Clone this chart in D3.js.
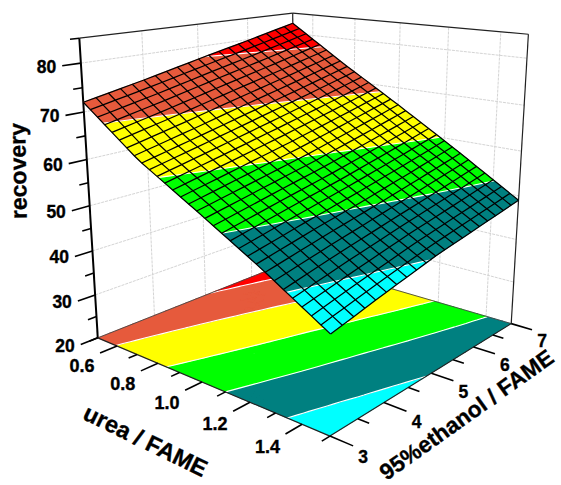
<!DOCTYPE html>
<html><head><meta charset="utf-8">
<script src="https://cdn.jsdelivr.net/npm/d3@7/dist/d3.min.js"></script>
<style>html,body{margin:0;padding:0;background:#fff}svg{display:block}
text{font-family:"Liberation Sans",Arial,sans-serif;font-weight:bold;fill:#000;stroke:#000;stroke-width:0.35px}</style>
</head><body><svg id="c" width="561" height="485"></svg>
<script>
// ---- data ----
const ureaNodes = [0.5, 0.75, 1.0, 1.25, 1.5];
const ethanolNodes = [3, 4, 5, 6, 7];
const recoveryU050 = [72.0, 74.5, 77.2, 79.8, 82.5];
const recoveryU075 = [62.6, 65.4, 68.3, 71.1, 74.0];
const recoveryU100 = [55.3, 57.8, 60.3, 63.1, 66.0];
const recoveryU125 = [47.8, 50.3, 52.6, 55.1, 57.7];
const recoveryU150 = [39.6, 42.4, 45.0, 47.0, 49.0];
const recoveryRows = [recoveryU050, recoveryU075, recoveryU100, recoveryU125, recoveryU150];
const levels = [44.7, 52.3, 60, 68.5, 77.5];
const bandColors = ["#00ffff", "#008080", "#00ff00", "#ffff00", "#e65a3c", "#ff0000"];
const zMajor = [20, 30, 40, 50, 60, 70, 80];
const zMinor = [25, 35, 45, 55, 65, 75, 85];
const uMajor = [0.6, 0.8, 1.0, 1.2, 1.4];
const uMinor = [0.5, 0.7, 0.9, 1.1, 1.3, 1.5];
const eMajor = [3, 4, 5, 6, 7];
const eMinor = [3.5, 4.5, 5.5, 6.5];
const uLabels = ["0.6", "0.8", "1.0", "1.2", "1.4"];
const meshU = 30, meshE = 20;

// ---- scales to the unit cube ----
const sx = d3.scaleLinear([0.5, 1.5], [0, 1]);
const sy = d3.scaleLinear([3, 7], [0, 1]);
const sz = d3.scaleLinear([20, 85], [0, 1]);

// ---- view: camera fitted to the frame of the box ----
const frame = [
  [0.5,3,20, 97,337],[1.5,3,20, 330,436],[1.5,7,20, 511,324],
  [0.5,3,85, 79,38],[0.5,7,85, 293,13],[1.5,7,85, 528,34],
  [0.5,3,50, 90.5,207],[1.0,3,20, 202,382],[1.5,5,20, 432,373]
];
function fitCamera(rows){
  const A=[],b=[];
  rows.forEach(([u,e,z,X,Y])=>{
    const p=[sx(u),sy(e),sz(z),1];
    A.push([...p,0,0,0,0,...p.slice(0,3).map(v=>-v*X)]);b.push(X);
    A.push([0,0,0,0,...p,...p.slice(0,3).map(v=>-v*Y)]);b.push(Y);
  });
  const n=11,M=d3.range(n).map(i=>d3.range(n+1).map(j=>{
    let s=0;A.forEach((r,k)=>{s+=r[i]*(j<n?r[j]:b[k]);});return s;}));
  for(let i=0;i<n;i++){
    let p=i;for(let k=i+1;k<n;k++)if(Math.abs(M[k][i])>Math.abs(M[p][i]))p=k;
    [M[i],M[p]]=[M[p],M[i]];
    for(let k=0;k<n;k++)if(k!==i){const f=M[k][i]/M[i][i];for(let j=i;j<=n;j++)M[k][j]-=f*M[i][j];}
  }
  return M.map((r,i)=>r[n]/r[i]);
}
const C=fitCamera(frame);
function pr(u,e,z){
  const x=sx(u),y=sy(e),w=sz(z),d=C[8]*x+C[9]*y+C[10]*w+1;
  return [(C[0]*x+C[1]*y+C[2]*w+C[3])/d,(C[4]*x+C[5]*y+C[6]*w+C[7])/d];
}
const svg=d3.select("#c");
const line=d3.line();
function seg(g,a,b,col,w,dash){
  g.append("path").attr("d",line([pr(...a),pr(...b)])).attr("fill","none")
   .attr("stroke",col).attr("stroke-width",w).attr("stroke-dasharray",dash||null);
}
// ---- walls ----
const gWall=svg.append("g");
const gridCol="#d4d4d4",gd="3,1";
zMajor.slice(1).forEach(z=>{
  seg(gWall,[0.5,3,z],[0.5,7,z],gridCol,1,gd);
  seg(gWall,[0.5,7,z],[1.5,7,z],gridCol,1,gd);
});
eMajor.slice(1,-1).forEach(e=>seg(gWall,[0.5,e,20],[0.5,e,85],gridCol,1,gd));
uMajor.forEach(u=>seg(gWall,[u,7,20],[u,7,85],gridCol,1,gd));
seg(gWall,[0.5,3,85],[0.5,7,85],"#222",1.2);
seg(gWall,[0.5,7,85],[1.5,7,85],"#222",1.2);
seg(gWall,[0.5,7,85],[0.5,7,20],"#222",1.2);
seg(gWall,[1.5,7,85],[1.5,7,20],"#222",1.2);

// ---- surface sampling ----
const iu=d3.scaleLinear(ureaNodes,d3.range(ureaNodes.length)).clamp(true);
const ie=d3.scaleLinear(ethanolNodes,d3.range(ethanolNodes.length)).clamp(true);
function height(u,e){
  const a=iu(u),b=ie(e),i=Math.min(Math.floor(a),ureaNodes.length-2),j=Math.min(Math.floor(b),ethanolNodes.length-2);
  const s=a-i,t=b-j,R=recoveryRows;
  return (1-s)*(1-t)*R[i][j]+s*(1-t)*R[i+1][j]+(1-s)*t*R[i][j+1]+s*t*R[i+1][j+1];
}
const us=d3.range(meshU+1).map(i=>0.5+i/meshU);
const es=d3.range(meshE+1).map(j=>3+4*j/meshE);
const tris=[];
for(let i=0;i<meshU;i++)for(let j=0;j<meshE;j++){
  const v=(a,b)=>[us[a],es[b],height(us[a],es[b])];
  tris.push([v(i,j),v(i+1,j),v(i+1,j+1)],[v(i,j),v(i+1,j+1),v(i,j+1)]);
}
function lerp(a,b,l){const t=(l-a[2])/(b[2]-a[2]);return [a[0]+t*(b[0]-a[0]),a[1]+t*(b[1]-a[1]),l];}
function clip(poly,l,keepAbove){
  const out=[];
  poly.forEach((p,i)=>{
    const q=poly[(i+1)%poly.length],pi=keepAbove?p[2]>=l:p[2]<=l,qi=keepAbove?q[2]>=l:q[2]<=l;
    if(pi)out.push(p);
    if(pi!==qi)out.push(lerp(p,q,l));
  });
  return out;
}
const edges=[-Infinity,...levels,Infinity];
const bands=bandColors.map((col,k)=>{
  const polys=[];
  tris.forEach(t=>{
    let p=t;
    if(isFinite(edges[k]))p=clip(p,edges[k],true);
    if(p.length&&isFinite(edges[k+1]))p=clip(p,edges[k+1],false);
    if(p.length>2)polys.push(p);
  });
  return {col,polys};
});
const contourSegs=levels.map(l=>{
  const s=[];
  tris.forEach(t=>{
    const pts=[];
    t.forEach((p,i)=>{const q=t[(i+1)%3];if((p[2]<l)!==(q[2]<l))pts.push(lerp(p,q,l));});
    if(pts.length===2)s.push(pts);
  });
  return s;
});
function drawBands(g,zf){
  const P=p=>zf===null?pr(p[0],p[1],p[2]):pr(p[0],p[1],zf);
  bands.forEach(b=>{
    const d=b.polys.map(poly=>line(poly.map(P))+"Z").join("");
    g.append("path").attr("d",d).attr("fill",b.col).attr("stroke",b.col).attr("stroke-width",0.5);
  });
  const d=contourSegs.flat().map(s=>line(s.map(P))).join("");
  g.append("path").attr("d",d).attr("fill","none").attr("stroke","#fff").attr("stroke-width",1.1);
}
// ---- floor ----
const gFloor=svg.append("g");
drawBands(gFloor,20);
seg(gFloor,[0.5,3,20],[0.5,7,20],"#444",0.9);
seg(gFloor,[0.5,7,20],[1.5,7,20],"#444",0.9);

// ---- axes ----
const gAxis=svg.append("g");
seg(gAxis,[0.5,3,20],[0.5,3,85],"#000",2);
seg(gAxis,[0.5,3,20],[1.5,3,20],"#222",1.2);
seg(gAxis,[1.5,3,20],[1.5,7,20],"#222",1.2);
const TZ=0.28,TE=0.08;
zMajor.forEach(z=>seg(gAxis,[0.5,3,z],[0.5,3-TZ,z],"#000",1.6));
zMinor.forEach(z=>seg(gAxis,[0.5,3,z],[0.5,3-TZ/2,z],"#000",1.6));
uMajor.forEach(u=>seg(gAxis,[u,3,20],[u,3-TZ,20],"#000",1.6));
uMinor.forEach(u=>seg(gAxis,[u,3,20],[u,3-TZ/2,20],"#000",1.6));
eMajor.forEach(e=>seg(gAxis,[1.5,e,20],[1.5+TE,e,20],"#000",1.6));
eMinor.forEach(e=>seg(gAxis,[1.5,e,20],[1.5+TE/2,e,20],"#000",1.6));

// ---- surface ----
const gSurf=svg.append("g");
drawBands(gSurf,null);
const mesh=[];
us.forEach(u=>mesh.push(es.map(e=>pr(u,e,height(u,e)))));
es.forEach(e=>mesh.push(us.map(u=>pr(u,e,height(u,e)))));
gSurf.selectAll("path.m").data(mesh).join("path").attr("class","m").attr("d",line)
  .attr("fill","none").attr("stroke","#000").attr("stroke-width",1.25);

// ---- labels ----
const gText=svg.append("g");
zMajor.forEach(z=>{
  const p=pr(0.5,3-TZ,z);
  gText.append("text").attr("x",p[0]-6).attr("y",p[1]+7).attr("text-anchor","end").attr("font-size",17.5).text(z);
});
uMajor.forEach((u,i)=>{
  const p=pr(u,3-TZ,20);
  gText.append("text").attr("x",p[0]-18).attr("y",p[1]+19).attr("text-anchor","middle").attr("font-size",18).text(uLabels[i]);
});
eMajor.forEach(e=>{
  const p=pr(1.5+TE,e,20);
  gText.append("text").attr("x",p[0]+10).attr("y",p[1]+17).attr("text-anchor","middle").attr("font-size",17.5).text(e);
});
function title(t,x,y,r,fs){
  gText.append("text").attr("transform",`translate(${x},${y}) rotate(${r})`).attr("text-anchor","middle").attr("font-size",fs).text(t);
}
title("recovery",26,171,-91,23);
title("urea / FAME",142,448,26,23.5);
title("95%ethanol / FAME",471,421,-35.4,22.6);
</script></body></html>
